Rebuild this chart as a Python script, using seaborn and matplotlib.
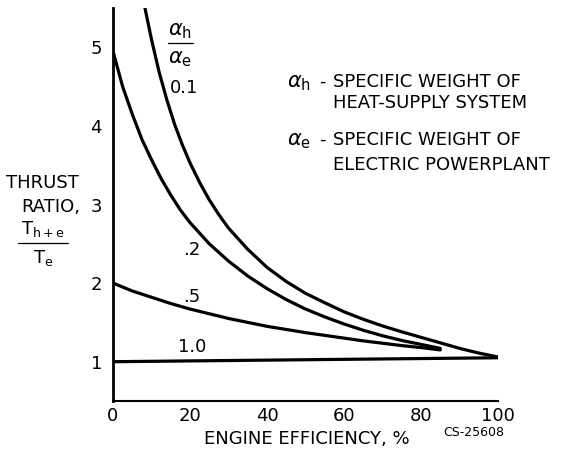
import numpy as np
import pandas as pd
import matplotlib
matplotlib.use("Agg")
import matplotlib.pyplot as plt
import seaborn as sns
from matplotlib.lines import Line2D

# --- data ---
x_01 = [8.3, 10, 12, 14, 16, 18, 20, 22.5, 25, 27.5, 30, 35, 40, 45, 50, 55, 60, 65, 70, 75, 80, 85, 90, 95, 100]
y_01 = [5.5, 5.1, 4.68, 4.33, 4.02, 3.76, 3.53, 3.28, 3.06, 2.87, 2.70, 2.43, 2.2, 2.02, 1.87, 1.75, 1.635,
        1.54, 1.455, 1.38, 1.31, 1.24, 1.17, 1.11, 1.06]

x_02 = [0, 2.5, 5, 7.5, 10, 12.5, 15, 17.5, 20, 25, 30, 35, 40, 45, 50, 55, 60, 65, 70, 75, 80, 85]
y_02 = [4.95, 4.5, 4.15, 3.83, 3.57, 3.33, 3.12, 2.93, 2.77, 2.5, 2.28, 2.09, 1.93, 1.79, 1.67, 1.57,
        1.48, 1.40, 1.33, 1.27, 1.22, 1.17]

x_05 = [0, 5, 10, 15, 20, 25, 30, 35, 40, 45, 50, 55, 60, 65, 70, 75, 80, 85]
y_05 = [2.0, 1.9, 1.82, 1.74, 1.67, 1.61, 1.55, 1.50, 1.45, 1.41, 1.37, 1.335, 1.30, 1.265, 1.235, 1.205,
        1.18, 1.15]

x_10 = [0, 100]
y_10 = [1.0, 1.05]

ratio_labels = ["0.1", ".2", ".5", "1.0"]
x_ticks = [0, 20, 40, 60, 80, 100]
y_ticks = [1, 2, 3, 4, 5]

frames = []
for lab, xs, ys in zip(ratio_labels, [x_01, x_02, x_05, x_10], [y_01, y_02, y_05, y_10]):
    frames.append(pd.DataFrame({"eff": xs, "thrust": ys, "ratio": lab}))
df = pd.concat(frames, ignore_index=True)

sns.set_style("white")
plt.rcParams["font.family"] = ["DejaVu Sans"]
plt.rcParams["text.color"] = "black"

fig = plt.figure(figsize=(5.71, 4.51), dpi=100)
ax = fig.add_axes([113 / 571, 1 - 401 / 451, (498 - 113) / 571, (401 - 8) / 451])

sns.lineplot(data=df, x="eff", y="thrust", hue="ratio", units="ratio", estimator=None,
             palette=["black"] * 4, linewidth=2.3, legend=False, ax=ax, sort=False)
for ln in ax.lines:
    ln.set_solid_joinstyle("round")
    ln.set_solid_capstyle("round")

ax.set_xlim(0, 100)
ax.set_ylim(0.5, 5.5)
ax.set_xticks(x_ticks)
ax.set_yticks(y_ticks)
ax.set_xticklabels([str(v) for v in x_ticks], fontsize=13)
ax.set_yticklabels([str(v) for v in y_ticks], fontsize=13)
ax.tick_params(axis="y", direction="in", length=12, width=0.9, pad=8, colors="black")
ax.tick_params(axis="x", direction="in", length=14, width=0.9, pad=4, colors="black")
ax.set_xlabel("")
ax.set_ylabel("")
for s in ["top", "right"]:
    ax.spines[s].set_visible(False)
ax.spines["left"].set_linewidth(2.0)
ax.spines["bottom"].set_linewidth(1.5)
ax.spines["left"].set_color("black")
ax.spines["bottom"].set_color("black")

def fx(px):
    return px / 571

def fy(py):
    return 1 - py / 451

fs = 13
# y label
fig.text(fx(42), fy(183), "THRUST", ha="center", va="center", fontsize=fs)
fig.text(fx(51), fy(207), "RATIO,", ha="center", va="center", fontsize=fs)
fig.text(fx(43), fy(229), "$\\mathregular{T_{h+e}}$", ha="center", va="center", fontsize=fs)
fig.add_artist(Line2D([fx(18), fx(68)], [fy(243), fy(243)], color="black", lw=0.9))
fig.text(fx(43), fy(258), "$\\mathregular{T_{e}}$", ha="center", va="center", fontsize=fs)

# x label
fig.text(fx(307), fy(439), "ENGINE EFFICIENCY, %", ha="center", va="center", fontsize=fs)
fig.text(fx(474), fy(432), "CS-25608", ha="center", va="center", fontsize=9)

# alpha ratio header
fig.text(fx(180), fy(31), "$\\alpha_{\\mathregular{h}}$", ha="center", va="center", fontsize=fs + 2)
fig.add_artist(Line2D([fx(168), fx(193)], [fy(43), fy(43)], color="black", lw=0.9))
fig.text(fx(180), fy(59), "$\\alpha_{\\mathregular{e}}$", ha="center", va="center", fontsize=fs + 2)

# curve labels
fig.text(fx(184), fy(88), "0.1", ha="center", va="center", fontsize=fs)
fig.text(fx(192), fy(250), ".2", ha="center", va="center", fontsize=fs)
fig.text(fx(192), fy(297), ".5", ha="center", va="center", fontsize=fs)
fig.text(fx(192), fy(347), "1.0", ha="center", va="center", fontsize=fs)

# definitions
fig.text(fx(287), fy(83), "$\\alpha_{\\mathregular{h}}$", ha="left", va="center", fontsize=fs + 2)
fig.text(fx(319), fy(82), "-", ha="left", va="center", fontsize=fs)
fig.text(fx(333), fy(82), "SPECIFIC WEIGHT OF", ha="left", va="center", fontsize=fs)
fig.text(fx(333), fy(103), "HEAT-SUPPLY SYSTEM", ha="left", va="center", fontsize=fs)
fig.text(fx(287), fy(141), "$\\alpha_{\\mathregular{e}}$", ha="left", va="center", fontsize=fs + 2)
fig.text(fx(319), fy(140), "-", ha="left", va="center", fontsize=fs)
fig.text(fx(333), fy(140), "SPECIFIC WEIGHT OF", ha="left", va="center", fontsize=fs)
fig.text(fx(333), fy(165), "ELECTRIC POWERPLANT", ha="left", va="center", fontsize=fs)

fig.savefig("out.png", dpi=100)
